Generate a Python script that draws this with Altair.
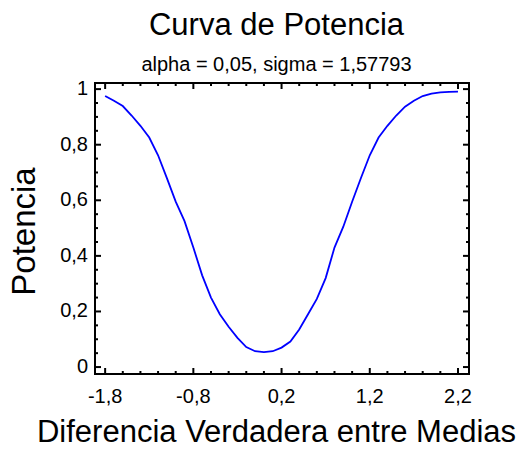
import altair as alt
import pandas as pd

# Data
diff = [-1.8, -1.7, -1.6, -1.5, -1.4, -1.3, -1.2, -1.1, -1.0, -0.9, -0.8,
        -0.7, -0.6, -0.5, -0.4, -0.3, -0.2, -0.1, 0.0, 0.1, 0.2, 0.3,
        0.4, 0.5, 0.6, 0.7, 0.8, 0.9, 1.0, 1.1, 1.2, 1.3, 1.4, 1.5,
        1.6, 1.7, 1.8, 1.9, 2.0, 2.1, 2.2]
power = [0.975, 0.958, 0.939, 0.905, 0.868, 0.826, 0.762, 0.680, 0.595, 0.525, 0.430,
         0.330, 0.250, 0.190, 0.145, 0.105, 0.072, 0.057, 0.054, 0.057, 0.070, 0.092,
         0.135, 0.190, 0.245, 0.320, 0.430, 0.505, 0.595, 0.680, 0.762, 0.826, 0.868, 0.905,
         0.937, 0.958, 0.975, 0.984, 0.988, 0.990, 0.991]

x_major = [-1.8, -0.8, 0.2, 1.2, 2.2]
x_labels = ["-1,8", "-0,8", "0,2", "1,2", "2,2"]
x_minor = [-1.6, -1.4, -1.2, -1.0, -0.6, -0.4, -0.2, 0.0, 0.4, 0.6, 0.8, 1.0,
           1.4, 1.6, 1.8, 2.0]
y_major = [0, 0.2, 0.4, 0.6, 0.8, 1]
y_labels = ["0", "0,2", "0,4", "0,6", "0,8", "1"]
y_minor = [0.05, 0.1, 0.15, 0.25, 0.3, 0.35, 0.45, 0.5, 0.55, 0.65, 0.7, 0.75,
           0.85, 0.9, 0.95]

title_text = "Curva de Potencia"
subtitle_text = "alpha = 0,05, sigma = 1,57793"
x_title = "Diferencia Verdadera entre Medias"
y_title = "Potencia"

df = pd.DataFrame({"x": diff, "y": power})

FONT = "Liberation Sans"
W, H = 374, 291
MAJ, MIN = 6, 3
xs = alt.Scale(domain=[-1.915, 2.325], nice=False, zero=False)
ys = alt.Scale(domain=[-0.025, 1.022], nice=False, zero=False)

line = alt.Chart(df).mark_line(color="#0000ff", strokeWidth=1.8).encode(
    x=alt.X("x:Q", scale=xs, axis=None),
    y=alt.Y("y:Q", scale=ys, axis=None),
)


def xticks(values, size):
    d = pd.DataFrame({"v": values})
    mk = dict(color="black", opacity=1, thickness=2, size=size, orient="vertical")
    bottom = alt.Chart(d).mark_tick(**mk).encode(
        x=alt.X("v:Q", scale=xs, axis=None),
        y=alt.value(H - size / 2))
    top = alt.Chart(d).mark_tick(**mk).encode(
        x=alt.X("v:Q", scale=xs, axis=None),
        y=alt.value(size / 2))
    return [bottom, top]


def yticks(values, size):
    d = pd.DataFrame({"v": values})
    mk = dict(color="black", opacity=1, thickness=2, size=size, orient="horizontal")
    left = alt.Chart(d).mark_tick(**mk).encode(
        y=alt.Y("v:Q", scale=ys, axis=None),
        x=alt.value(size / 2))
    right = alt.Chart(d).mark_tick(**mk).encode(
        y=alt.Y("v:Q", scale=ys, axis=None),
        x=alt.value(W - size / 2))
    return [left, right]


x_lab = alt.Chart(pd.DataFrame({"v": x_major, "lab": x_labels})).mark_text(
    align="center", baseline="top", font=FONT, fontSize=20, color="black"
).encode(
    x=alt.X("v:Q", scale=xs, axis=None),
    y=alt.value(H + 13),
    text=alt.Text("lab:N"),
)

y_lab = alt.Chart(pd.DataFrame({"v": y_major, "lab": y_labels})).mark_text(
    align="right", baseline="middle", font=FONT, fontSize=20, color="black"
).encode(
    y=alt.Y("v:Q", scale=ys, axis=None),
    x=alt.value(-7),
    text=alt.Text("lab:N"),
)

x_tit = alt.Chart(pd.DataFrame({"t": [x_title]})).mark_text(
    align="center", baseline="alphabetic", font=FONT, fontSize=31, color="black"
).encode(
    x=alt.value(181.5),
    y=alt.value(H + 68),
    text=alt.Text("t:N"),
)

y_tit = alt.Chart(pd.DataFrame({"t": [y_title]})).mark_text(
    align="center", baseline="alphabetic", font=FONT, fontSize=33, color="black",
    angle=270,
).encode(
    x=alt.value(-60),
    y=alt.value(148.5),
    text=alt.Text("t:N"),
)

layers = ([line] + xticks(x_major, MAJ) + xticks(x_minor, MIN)
          + yticks(y_major, MAJ) + yticks(y_minor, MIN)
          + [x_lab, y_lab, x_tit, y_tit])

chart = alt.layer(*layers).properties(
    width=W,
    height=H,
    title=alt.TitleParams(
        text=title_text, subtitle=subtitle_text, anchor="middle", frame="group",
        dx=-5.5, offset=3, subtitlePadding=13,
        font=FONT, fontSize=31, fontWeight="normal", color="black",
        subtitleFont=FONT, subtitleFontSize=20, subtitleColor="black",
        subtitleFontWeight="normal",
    ),
    autosize=alt.AutoSizeParams(type="none"),
    padding={"left": 87, "top": 75, "right": 54, "bottom": 76},
).configure_view(
    stroke="black", strokeWidth=2
)

chart.save("out.html", embed_options={"renderer": "svg", "actions": False})
